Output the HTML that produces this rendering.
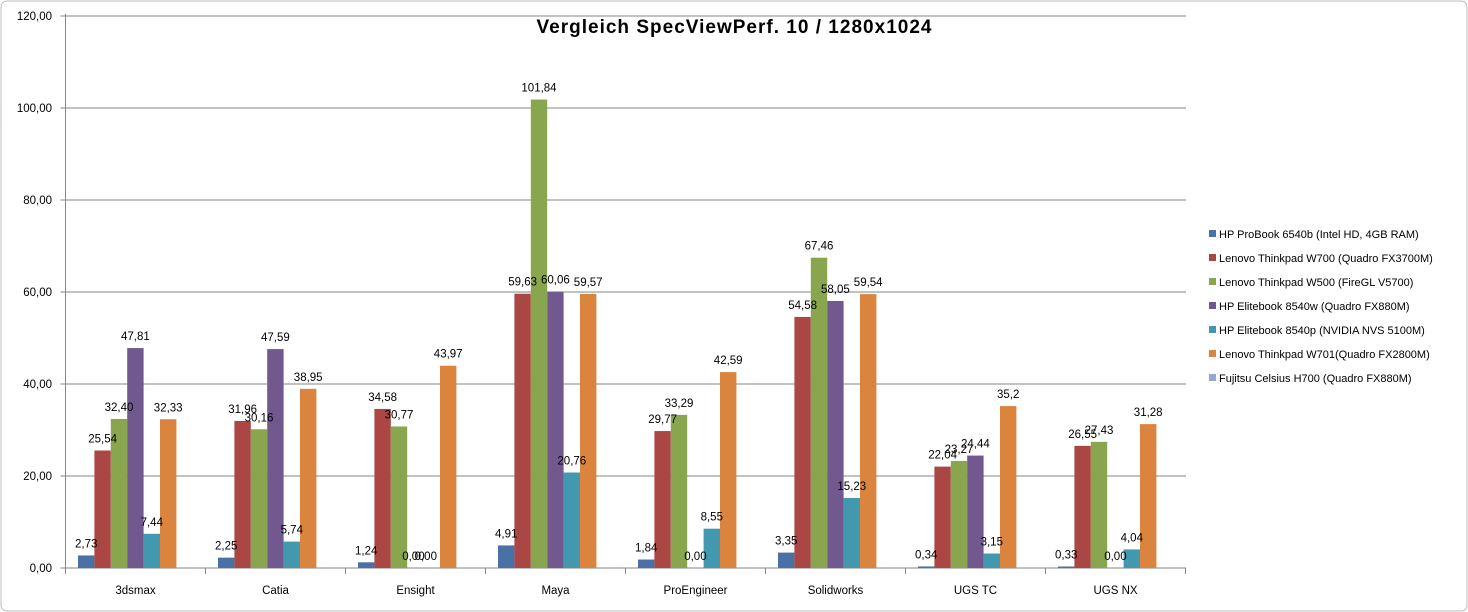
<!DOCTYPE html>
<html><head><meta charset="utf-8"><style>
html,body{margin:0;padding:0;background:#fff;}
svg{display:block;font-family:"Liberation Sans",sans-serif;}
</style></head><body>
<svg id="c" width="1468" height="612" xmlns="http://www.w3.org/2000/svg">
<rect x="1" y="1" width="1466" height="610" rx="6" fill="#fff" stroke="#bcbcbc"/>
<text x="734" y="33" text-anchor="middle" font-size="19" font-weight="bold" textLength="395">Vergleich SpecViewPerf. 10 / 1280x1024</text>
<g id="grid"></g><g id="bars"></g><g id="lbl" font-size="11.5" text-anchor="middle" fill="#000"></g>
<g font-size="11" fill="#000">
<rect x="1209" y="230" width="7" height="7" fill="#4A71A6"/><text x="1219" y="238">HP ProBook 6540b (Intel HD, 4GB RAM)</text>
<rect x="1209" y="254" width="7" height="7" fill="#AA4644"/><text x="1219" y="262">Lenovo Thinkpad W700 (Quadro FX3700M)</text>
<rect x="1209" y="278" width="7" height="7" fill="#89A54E"/><text x="1219" y="286">Lenovo Thinkpad W500 (FireGL V5700)</text>
<rect x="1209" y="302" width="7" height="7" fill="#71588F"/><text x="1219" y="310">HP Elitebook 8540w (Quadro FX880M)</text>
<rect x="1209" y="326" width="7" height="7" fill="#4198AF"/><text x="1219" y="334">HP Elitebook 8540p (NVIDIA  NVS 5100M)</text>
<rect x="1209" y="350" width="7" height="7" fill="#DB843D"/><text x="1219" y="358">Lenovo Thinkpad W701(Quadro FX2800M)</text>
<rect x="1209" y="374" width="7" height="7" fill="#93A9CF"/><text x="1219" y="382">Fujitsu Celsius H700 (Quadro FX880M)</text>
</g>
</svg>
<script>
var ns="http://www.w3.org/2000/svg";
function el(p,t,a,txt){var e=document.createElementNS(ns,t);for(var k in a)e.setAttribute(k,a[k]);if(txt!=null)e.textContent=txt;document.getElementById(p).appendChild(e);}
var x0=65.5,y0=568,pu=4.6,cw=140,bw=16.4;
for(var i=0;i<=6;i++){var y=y0-i*20*pu;el("grid","line",{x1:x0-5,x2:1186,y1:y,y2:y,stroke:"#868686","stroke-width":1});
el("grid","text",{x:52,y:y+4,"font-size":11.5,"text-anchor":"end"},(i*20)+",00");}
el("grid","line",{x1:x0,x2:x0,y1:14,y2:568,stroke:"#868686"});
var cats=["3dsmax","Catia","Ensight","Maya","ProEngineer","Solidworks","UGS TC","UGS NX"];
for(var c=0;c<=8;c++)el("grid","line",{x1:x0+c*cw,x2:x0+c*cw,y1:568,y2:574,stroke:"#868686"});
var cols=["#4A71A6","#AA4644","#89A54E","#71588F","#4198AF","#DB843D","#93A9CF"];
var d=[[2.73,25.54,32.40,47.81,7.44,32.33],[2.25,31.96,30.16,47.59,5.74,38.95],[1.24,34.58,30.77,0,0,43.97],[4.91,59.63,101.84,60.06,20.76,59.57],[1.84,29.77,33.29,0,8.55,42.59],[3.35,54.58,67.46,58.05,15.23,59.54],[0.34,22.04,23.27,24.44,3.15,35.2],[0.33,26.55,27.43,0,4.04,31.28]];
var L=[["2,73","25,54","32,40","47,81","7,44","32,33"],["2,25","31,96","30,16","47,59","5,74","38,95"],["1,24","34,58","30,77","0,00","0,00","43,97"],["4,91","59,63","101,84","60,06","20,76","59,57"],["1,84","29,77","33,29","0,00","8,55","42,59"],["3,35","54,58","67,46","58,05","15,23","59,54"],["0,34","22,04","23,27","24,44","3,15","35,2"],["0,33","26,55","27,43","0,00","4,04","31,28"]];
for(var c=0;c<8;c++){el("lbl","text",{x:x0+c*cw+cw/2,y:594},cats[c]);
for(var s=0;s<6;s++){var v=d[c][s],h=v*pu,x=x0+c*cw+12.5+s*bw;
if(h>0)el("bars","rect",{x:x,y:y0-h,width:bw,height:h,fill:cols[s]});
var lx=x+bw/2; if(c==2&&s==3)lx-=2; if(c==2&&s==4)lx-=6;
el("lbl","text",{x:lx,y:y0-h-8},L[c][s]);}}
</script>
</body></html>
